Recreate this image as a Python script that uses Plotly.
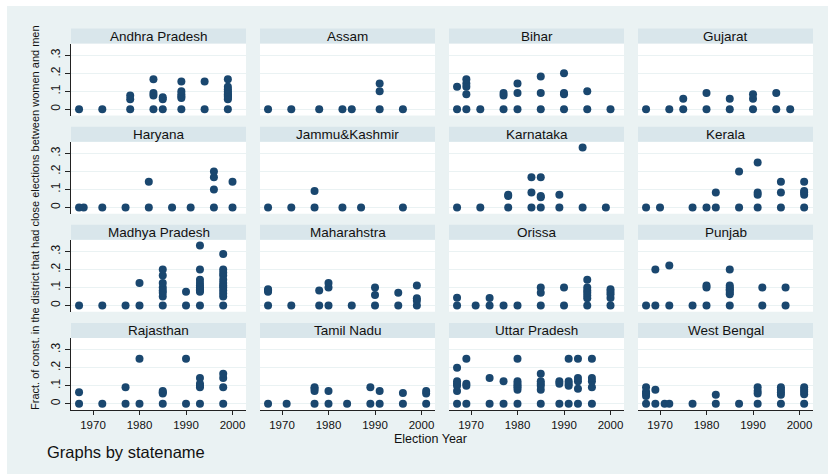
import plotly.graph_objects as go

STATES = ["Andhra Pradesh", "Assam", "Bihar", "Gujarat",
          "Haryana", "Jammu&Kashmir", "Karnataka", "Kerala",
          "Madhya Pradesh", "Maharahstra", "Orissa", "Punjab",
          "Rajasthan", "Tamil Nadu", "Uttar Pradesh", "West Bengal"]

ANDHRA_YEARS = [1967, 1972, 1978, 1983, 1985, 1989, 1994, 1999]
ANDHRA_VALS = [[0], [0], [0, .056, .077], [0, .077, .091, .167], [0, .056, .067],
               [0, .063, .071, .083, .1, .154], [0, .154],
               [0, .056, .063, .071, .077, .083, .091, .1, .111, .125, .167]]

ASSAM_YEARS = [1967, 1972, 1978, 1983, 1985, 1991, 1996]
ASSAM_VALS = [[0], [0], [0], [0], [0], [0, .1, .143], [0]]

BIHAR_YEARS = [1967, 1969, 1972, 1977, 1980, 1985, 1990, 1995, 2000]
BIHAR_VALS = [[0, .125], [0, .083, .125, .143, .167], [0], [0, .077, .091],
              [0, .091, .143], [0, .091, .182], [0, .083, .091, .2], [0, .1], [0]]

GUJARAT_YEARS = [1967, 1972, 1975, 1980, 1985, 1990, 1995, 1998]
GUJARAT_VALS = [[0], [0], [0, .059], [0, .091], [0, .059], [0, .059, .083], [0, .091], [0]]

HARYANA_YEARS = [1967, 1968, 1972, 1977, 1982, 1987, 1991, 1996, 2000]
HARYANA_VALS = [[0], [0], [0], [0], [0, .143], [0], [0], [0, .1, .167, .2], [0, .143]]

JK_YEARS = [1967, 1972, 1977, 1983, 1987, 1996]
JK_VALS = [[0], [0], [0, .091], [0], [0], [0]]

KARNATAKA_YEARS = [1967, 1972, 1978, 1983, 1985, 1989, 1994, 1999]
KARNATAKA_VALS = [[0], [0], [0, .063, .071], [0, .083, .167], [0, .056, .063, .167],
                  [0, .071], [0, .333], [0]]

KERALA_YEARS = [1967, 1970, 1977, 1980, 1982, 1987, 1991, 1996, 2001]
KERALA_VALS = [[0], [0], [0], [0], [0, .083], [0, .2], [0, .071, .083, .25],
               [0, .083, .143], [0, .071, .083, .091, .143]]

MP_YEARS = [1967, 1972, 1977, 1980, 1985, 1990, 1993, 1998]
MP_VALS = [[0], [0], [0], [0, .125], [0, .05, .071, .083, .1, .125, .167, .2], [0, .077],
           [0, .077, .083, .091, .1, .111, .125, .143, .2, .333],
           [0, .05, .067, .083, .1, .111, .125, .143, .167, .182, .2, .286]]

MAHA_YEARS = [1967, 1972, 1978, 1980, 1985, 1990, 1995, 1999]
MAHA_VALS = [[0, .077, .083, .091], [0], [0, .083], [0, .1, .125], [0], [0, .059, .1],
             [0, .071], [0, .027, .04, .111]]

ORISSA_YEARS = [1967, 1971, 1974, 1977, 1980, 1985, 1990, 1995, 2000]
ORISSA_VALS = [[0, .043], [0], [0, .042], [0], [0], [0, .071, .1], [0, .1],
               [0, .04, .056, .071, .083, .1, .143], [0, .042, .063, .077, .091]]

PUNJAB_YEARS = [1967, 1969, 1972, 1977, 1980, 1985, 1992, 1997]
PUNJAB_VALS = [[0], [0, .2], [0, .222], [0], [0, .1, .111],
               [0, .063, .071, .083, .091, .1, .111, .2], [0, .1], [0, .1]]

RAJ_YEARS = [1967, 1972, 1977, 1980, 1985, 1990, 1993, 1998]
RAJ_VALS = [[0, .063], [0], [0, .091], [0, .25], [0, .056, .063, .071], [0, .25],
            [0, .091, .1, .111, .143], [0, .091, .143, .167]]

TN_YEARS = [1967, 1971, 1977, 1980, 1984, 1989, 1991, 1996, 2001]
TN_VALS = [[0], [0], [0, .071, .083, .091], [0, .071], [0], [0, .091], [0, .071],
           [0, .059], [0, .056, .071]]

UP_YEARS = [1967, 1969, 1974, 1977, 1980, 1985, 1989, 1991, 1993, 1996]
UP_VALS = [[0, .071, .1, .111, .125, .2], [0, .1, .111, .25], [0, .143], [0, .125],
           [0, .077, .091, .1, .111, .125, .25], [0, .077, .1, .111, .125, .167],
           [0, .111, .125], [0, .1, .111, .125, .25], [0, .083, .125, .143, .25],
           [0, .091, .125, .143, .25]]

WB_YEARS = [1967, 1969, 1971, 1972, 1977, 1982, 1987, 1991, 1996, 2001]
WB_VALS = [[0, .043, .056, .067, .091], [0, .077], [0], [0], [0], [0, .05], [0],
           [0, .056, .071, .091], [0, .05, .063, .077, .091], [0, .053, .067, .077, .091]]

PANEL_DATA = [(ANDHRA_YEARS, ANDHRA_VALS), (ASSAM_YEARS, ASSAM_VALS),
              (BIHAR_YEARS, BIHAR_VALS), (GUJARAT_YEARS, GUJARAT_VALS),
              (HARYANA_YEARS, HARYANA_VALS), (JK_YEARS, JK_VALS),
              (KARNATAKA_YEARS, KARNATAKA_VALS), (KERALA_YEARS, KERALA_VALS),
              (MP_YEARS, MP_VALS), (MAHA_YEARS, MAHA_VALS),
              (ORISSA_YEARS, ORISSA_VALS), (PUNJAB_YEARS, PUNJAB_VALS),
              (RAJ_YEARS, RAJ_VALS), (TN_YEARS, TN_VALS),
              (UP_YEARS, UP_VALS), (WB_YEARS, WB_VALS)]

X_TICKS = [1970, 1980, 1990, 2000]
Y_TICKS = [0, 0.1, 0.2, 0.3]
Y_TICK_TEXT = ["0", ".1", ".2", ".3"]

W, H = 828, 474
BG = "#EAF2F3"
HEADER = "#D9E6EB"
MARK = "#1A476F"
FONT = "Liberation Sans, Arial, sans-serif"

COL_X0 = [71, 260, 449, 638]
PANEL_W = 175
ROW_ZERO = [109.3 + 98.13 * i for i in range(4)]
Y_RANGE = [-0.035, 0.365]
PX_PER_UNIT = 180.0
HEADER_H = 15
X_RANGE = [1965.27, 2002.9]


def px(x):
    return x / W


def py(y):
    return 1 - y / H


fig = go.Figure()
layout = dict(
    width=W, height=H,
    margin=dict(l=0, r=0, t=0, b=0),
    paper_bgcolor="white",
    plot_bgcolor="rgba(0,0,0,0)",
    showlegend=False,
    font=dict(family=FONT, color="#111"),
)
shapes = [dict(type="rect", xref="paper", yref="paper", x0=px(7), x1=1, y0=0, y1=py(6),
               fillcolor=BG, line=dict(width=0), layer="below")]
annotations = []

for k, (name, (years, vals)) in enumerate(zip(STATES, PANEL_DATA)):
    r, c = divmod(k, 4)
    idx = k + 1
    x0 = COL_X0[c]
    x1 = x0 + PANEL_W
    top = ROW_ZERO[r] - Y_RANGE[1] * PX_PER_UNIT
    bot = ROW_ZERO[r] - Y_RANGE[0] * PX_PER_UNIT
    xs, ys = [], []
    for yr, vv in zip(years, vals):
        for v in vv:
            xs.append(yr)
            ys.append(v)
    fig.add_trace(go.Scatter(x=xs, y=ys, mode="markers",
                             marker=dict(color=MARK, size=8, line=dict(width=0)),
                             xaxis=f"x{idx}", yaxis=f"y{idx}", hoverinfo="x+y"))
    xa = dict(domain=[px(x0), px(x1)], range=X_RANGE, anchor=f"y{idx}",
              showgrid=False, zeroline=False, fixedrange=True)
    ya = dict(domain=[py(bot), py(top)], range=Y_RANGE, anchor=f"x{idx}",
              tickvals=Y_TICKS, showgrid=True, gridcolor=BG, gridwidth=1,
              zeroline=False, fixedrange=True)
    if r == 3:
        xa.update(showline=True, linecolor="#222", linewidth=1, ticks="outside",
                  ticklen=4, tickcolor="#222", tickvals=X_TICKS,
                  tickfont=dict(size=11.5, family=FONT, color="#111"))
    else:
        xa.update(showline=False, showticklabels=False, ticks="")
    if c == 0:
        ya.update(showline=True, linecolor="#222", linewidth=1, ticks="outside",
                  ticklen=5, tickcolor="#222", ticktext=Y_TICK_TEXT, tickangle=-90,
                  tickfont=dict(size=12, family=FONT, color="#111"))
    else:
        ya.update(showline=False, showticklabels=False, ticks="")
    key = "" if idx == 1 else str(idx)
    layout["xaxis" + key] = xa
    layout["yaxis" + key] = ya
    shapes.append(dict(type="rect", xref="paper", yref="paper", x0=px(x0), x1=px(x1),
                       y0=py(bot), y1=py(top), fillcolor="white",
                       line=dict(width=0), layer="below"))
    shapes.append(dict(type="rect", xref="paper", yref="paper", x0=px(x0), x1=px(x1),
                       y0=py(top), y1=py(top - HEADER_H), fillcolor=HEADER,
                       line=dict(width=0), layer="below"))
    annotations.append(dict(text=name, xref="paper", yref="paper",
                            x=px((x0 + x1) / 2), y=py(top - HEADER_H / 2),
                            showarrow=False, xanchor="center", yanchor="middle",
                            font=dict(size=13.5, family=FONT, color="#111")))

annotations.append(dict(text="Fract. of const. in the district that had close elections between women and men",
                        xref="paper", yref="paper", x=px(35), y=py(218), textangle=-90,
                        showarrow=False, xanchor="center", yanchor="middle",
                        font=dict(size=11, family=FONT, color="#111")))
annotations.append(dict(text="Election Year", xref="paper", yref="paper",
                        x=px(430), y=py(439), showarrow=False,
                        xanchor="center", yanchor="middle",
                        font=dict(size=12.5, family=FONT, color="#111")))
annotations.append(dict(text="Graphs by statename", xref="paper", yref="paper",
                        x=px(45), y=py(452), showarrow=False,
                        xanchor="left", yanchor="middle",
                        font=dict(size=16.5, family=FONT, color="#111")))

layout["shapes"] = shapes
layout["annotations"] = annotations
fig.update_layout(**layout)
fig.write_html("out.html", config={"displayModeBar": False},
               post_script="document.body.style.margin='0';document.body.style.padding='0';"
                           "document.documentElement.style.overflow='hidden';")
